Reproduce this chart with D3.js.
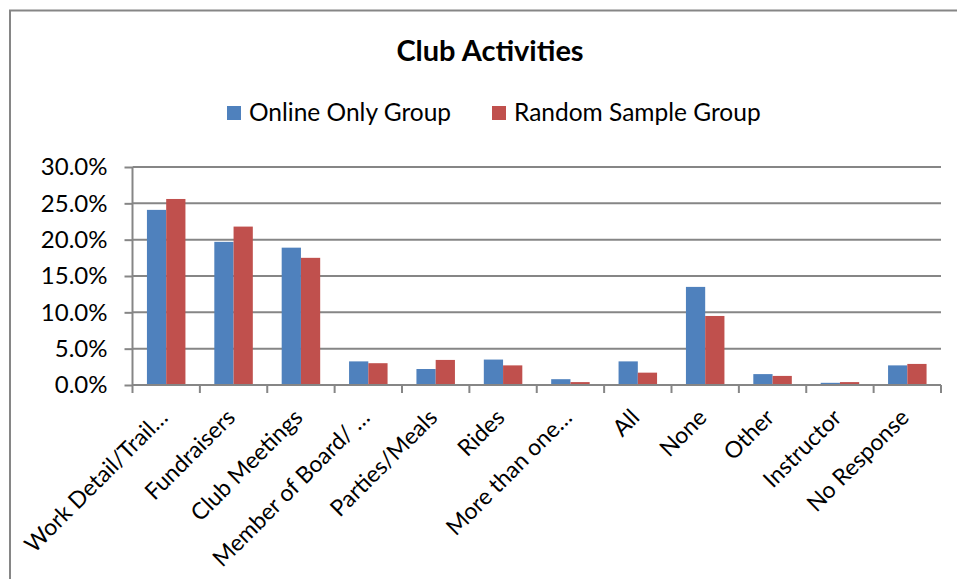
<!DOCTYPE html>
<html>
<head>
<meta charset="utf-8">
<script src="https://cdn.jsdelivr.net/npm/d3@7"></script>
<style>
    body { margin: 0; background: #fff; }
    text { font-family: Lato, "Open Sans", sans-serif; fill: #000; }
</style>
</head>
<body>
<svg id="chart" width="957" height="579"></svg>
<script>
const categories = ["Work Detail/Trail…", "Fundraisers", "Club Meetings", "Member of Board/ …", "Parties/Meals", "Rides", "More than one…", "All", "None", "Other", "Instructor", "No Response"]
const seriesNames = ["Online Only Group", "Random Sample Group"]
const onlineOnly = [0.241, 0.197, 0.189, 0.0325, 0.022, 0.035, 0.008, 0.0325, 0.135, 0.015, 0.003, 0.027]
const randomSample = [0.256, 0.218, 0.175, 0.030, 0.0345, 0.027, 0.004, 0.017, 0.095, 0.0125, 0.004, 0.029]
const yTicks = [0, 0.05, 0.10, 0.15, 0.20, 0.25, 0.30]
const colors = ["#4F81BD", "#C0504D"]

const svg = d3.select("#chart")
const gridColor = "#868686"

const plotLeft = 132.5
const plotRight = 941
const plotTop = 167
const plotBottom = 385

// chart frame
svg.append("rect")
    .attr("x", 10)
    .attr("y", 10.5)
    .attr("width", 1000)
    .attr("height", 1000)
    .attr("fill", "none")
    .attr("stroke", gridColor)
    .attr("stroke-width", 2)

svg.append("text")
    .attr("x", 490)
    .attr("y", 61)
    .attr("text-anchor", "middle")
    .style("font-size", "29px")
    .style("font-weight", "bold")
    .text("Club Activities")

// legend
const legendX = [227, 492]
const legend = svg.selectAll("g.legend")
    .data(seriesNames)
    .enter()
    .append("g")
    .attr("class", "legend")
    .attr("transform", (d, i) => `translate(${legendX[i]}, 0)`)

legend.append("rect")
    .attr("x", 0)
    .attr("y", 106)
    .attr("width", 14)
    .attr("height", 14)
    .attr("fill", (d, i) => colors[i])

legend.append("text")
    .attr("x", 22)
    .attr("y", 121)
    .style("font-size", "24.5px")
    .text(d => d)

const x = d3.scaleBand()
    .domain(categories)
    .range([plotLeft, plotRight])
    .padding(0)

const xInner = d3.scaleBand()
    .domain(seriesNames)
    .range([0, x.bandwidth()])
    .paddingInner(0)
    .paddingOuter(0.75)

const y = d3.scaleLinear()
    .domain([0, 0.3])
    .range([plotBottom, plotTop])

// gridlines
svg.append("g")
    .selectAll("line")
    .data(yTicks.slice(1))
    .enter()
    .append("line")
    .attr("x1", plotLeft)
    .attr("x2", plotRight)
    .attr("y1", d => y(d))
    .attr("y2", d => y(d))
    .attr("stroke", gridColor)
    .attr("stroke-width", 2)

// y axis
const yAxis = svg.append("g")
    .attr("transform", `translate(${plotLeft}, 0)`)
    .call(d3.axisLeft(y)
        .tickValues(yTicks)
        .tickSize(8)
        .tickPadding(17)
        .tickFormat(d3.format(".1%")))

yAxis.select(".domain").attr("stroke", gridColor).attr("stroke-width", 2).attr("d", `M0,${plotTop}V${plotBottom}`)
yAxis.selectAll(".tick line").attr("stroke", gridColor).attr("stroke-width", 2)
yAxis.selectAll(".tick text")
    .style("font-size", "24px")
    .style("font-family", "Lato, sans-serif")
    .attr("fill", "#000")

// bars
const groups = svg.append("g")
    .selectAll("g")
    .data(categories)
    .enter()
    .append("g")
    .attr("transform", d => `translate(${x(d)}, 0)`)

groups.selectAll("rect")
    .data((d, i) => [onlineOnly[i], randomSample[i]])
    .enter()
    .append("rect")
    .attr("x", (d, i) => xInner(seriesNames[i]))
    .attr("width", xInner.bandwidth())
    .attr("y", d => y(d))
    .attr("height", d => plotBottom - y(d))
    .attr("fill", (d, i) => colors[i])

// x axis
svg.append("line")
    .attr("x1", plotLeft)
    .attr("x2", plotRight)
    .attr("y1", plotBottom)
    .attr("y2", plotBottom)
    .attr("stroke", gridColor)
    .attr("stroke-width", 2)

svg.append("g")
    .selectAll("line")
    .data(categories.concat(["end"]))
    .enter()
    .append("line")
    .attr("x1", (d, i) => plotLeft + i * x.step())
    .attr("x2", (d, i) => plotLeft + i * x.step())
    .attr("y1", plotBottom)
    .attr("y2", plotBottom + 8)
    .attr("stroke", gridColor)
    .attr("stroke-width", 2)

svg.append("g")
    .selectAll("text")
    .data(categories)
    .enter()
    .append("text")
    .attr("transform", d => `translate(${x(d) + x.bandwidth() / 2 + 3}, 419) rotate(-45)`)
    .attr("text-anchor", "end")
    .style("font-size", "23px")
    .text(d => d)
</script>
</body>
</html>
